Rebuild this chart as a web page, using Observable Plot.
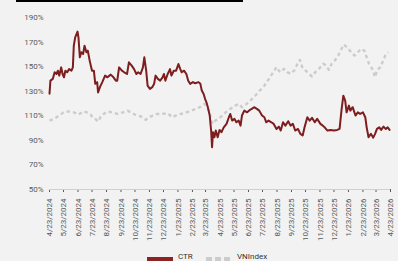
<!DOCTYPE html>
<html><head><meta charset="utf-8">
<script src="https://cdn.jsdelivr.net/npm/d3@7"></script>
<script src="https://cdn.jsdelivr.net/npm/@observablehq/plot@0.6"></script>
<style>
html,body{margin:0;padding:0;background:#f2f2f2;width:398px;height:261px;overflow:hidden;font-family:Roboto,"Liberation Sans",sans-serif;}
#bar{position:absolute;left:16px;top:0;width:227px;height:2px;background:#000;}
#chart{position:absolute;left:0;top:0;}
.leg{position:absolute;top:253px;font-size:8px;color:#333;line-height:8px;}
.sw{position:absolute;top:257px;width:26px;height:4px;}
</style></head>
<body>
<div id="chart"></div>
<div id="bar"></div>
<div class="sw" style="left:147px;background:#8b2323;"></div>
<div class="leg" style="left:178px;">CTR</div>
<div class="sw" style="left:206px;background:repeating-linear-gradient(90deg,#cccccc 0 6px,transparent 6px 9px);"></div>
<div class="leg" style="left:237px;">VNIndex</div>
<script>
const ctrDates = ["2024-04-23","2024-04-25","2024-04-30","2024-05-04","2024-05-08","2024-05-11","2024-05-14","2024-05-18","2024-05-21","2024-05-24","2024-05-27","2024-05-31","2024-06-04","2024-06-09","2024-06-12","2024-06-14","2024-06-17","2024-06-22","2024-06-24","2024-06-27","2024-06-30","2024-07-04","2024-07-07","2024-07-11","2024-07-14","2024-07-18","2024-07-23","2024-07-27","2024-07-30","2024-08-03","2024-08-05","2024-08-09","2024-08-14","2024-08-20","2024-08-25","2024-09-01","2024-09-07","2024-09-12","2024-09-15","2024-09-19","2024-09-25","2024-09-30","2024-10-06","2024-10-10","2024-10-16","2024-10-21","2024-10-26","2024-10-30","2024-11-04","2024-11-09","2024-11-12","2024-11-16","2024-11-19","2024-11-24","2024-11-29","2024-12-03","2024-12-06","2024-12-11","2024-12-16","2024-12-21","2024-12-24","2024-12-27","2025-01-01","2025-01-06","2025-01-09","2025-01-14","2025-01-19","2025-01-24","2025-01-28","2025-01-31","2025-02-05","2025-02-10","2025-02-14","2025-02-18","2025-02-24","2025-03-01","2025-03-08","2025-03-12","2025-03-15","2025-03-19","2025-03-22","2025-03-25","2025-03-28","2025-04-01","2025-04-04","2025-04-06","2025-04-08","2025-04-11","2025-04-14","2025-04-18","2025-04-22","2025-04-26","2025-05-01","2025-05-07","2025-05-12","2025-05-15","2025-05-19","2025-05-24","2025-05-28","2025-06-02","2025-06-06","2025-06-09","2025-06-14","2025-06-20","2025-06-26","2025-06-30","2025-07-05","2025-07-11","2025-07-16","2025-07-22","2025-07-27","2025-07-31","2025-08-05","2025-08-11","2025-08-16","2025-08-22","2025-08-27","2025-08-31","2025-09-05","2025-09-10","2025-09-16","2025-09-21","2025-09-26","2025-10-01","2025-10-07","2025-10-12","2025-10-17","2025-10-21","2025-10-27","2025-11-01","2025-11-06","2025-11-12","2025-11-17","2025-11-24","2025-11-29","2025-12-04","2025-12-09","2025-12-16","2025-12-23","2025-12-30","2026-01-04","2026-01-08","2026-01-12","2026-01-16","2026-01-19","2026-01-24","2026-01-27","2026-02-01","2026-02-07","2026-02-12","2026-02-17","2026-02-23","2026-02-28","2026-03-03","2026-03-07","2026-03-12","2026-03-17","2026-03-21","2026-03-25","2026-03-30","2026-04-03","2026-04-08","2026-04-13","2026-04-17","2026-04-21"];
const ctrValues = [128,138.6,140,145.4,144,146.7,142.7,149.4,144,141.3,146.7,145.4,148,146.7,149.4,167,173.8,178.5,173.8,157.6,161.7,160.3,167,161.7,163,154.9,146.7,146.7,136,137.4,129,133.3,137.4,142.7,141.3,143.5,141.3,138.6,138.6,149.4,146.7,145.4,144,153.5,150.8,148,144,145.4,144,149.4,157.6,146.7,134.6,131.9,133.3,136,142.7,140,138.6,141.3,144,138.6,144,148,142.7,146.7,146.7,152.1,148,145.4,146.7,144,138.6,136,137.4,136.5,137.4,136,130.5,127.8,123.8,121,117,110.2,98,84.4,96.6,92.5,98,92.5,98.5,96.6,100.6,103.4,108.8,111.5,106.1,107.5,104.7,106.1,102,110.2,114.2,112.8,114.8,115.6,117,115.6,114.2,110.2,108.8,104.7,106.1,104.7,103.4,99.3,101.2,98,104.7,102,105.6,102,103.4,98,99.3,95.3,94,100.6,108.8,106.1,108.3,104.7,107.5,103.4,102,100.2,98,98.5,98,98.5,99.3,114.2,126.4,122.4,112.8,118.3,114.2,117,110.2,112.8,111.5,112.8,108.8,100.6,92.5,95.3,92.2,95.3,99.3,100.6,98.5,101.2,99.3,100.6,98.5];
const vnDates = ["2024-04-23","2024-05-02","2024-05-13","2024-05-23","2024-06-03","2024-06-14","2024-06-24","2024-07-05","2024-07-12","2024-07-19","2024-07-24","2024-07-30","2024-08-05","2024-08-10","2024-08-17","2024-08-25","2024-09-04","2024-09-15","2024-09-27","2024-10-07","2024-10-14","2024-10-23","2024-11-01","2024-11-08","2024-11-15","2024-11-22","2024-11-29","2024-12-09","2024-12-20","2025-01-01","2025-01-11","2025-01-22","2025-02-05","2025-02-20","2025-03-03","2025-03-13","2025-03-21","2025-03-26","2025-04-01","2025-04-04","2025-04-08","2025-04-13","2025-04-20","2025-04-28","2025-05-05","2025-05-15","2025-05-26","2025-06-02","2025-06-09","2025-06-19","2025-06-27","2025-07-08","2025-07-17","2025-07-25","2025-08-01","2025-08-08","2025-08-15","2025-08-22","2025-08-27","2025-08-31","2025-09-07","2025-09-14","2025-09-21","2025-09-29","2025-10-06","2025-10-11","2025-10-16","2025-10-23","2025-10-30","2025-11-06","2025-11-13","2025-11-21","2025-11-30","2025-12-07","2025-12-12","2025-12-18","2025-12-25","2026-01-01","2026-01-08","2026-01-13","2026-01-20","2026-01-29","2026-02-05","2026-02-12","2026-02-19","2026-02-26","2026-03-03","2026-03-08","2026-03-15","2026-03-21","2026-03-25","2026-04-01","2026-04-06","2026-04-12","2026-04-18"];
const vnValues = [106,107.4,110,112.8,113.6,112.8,111,113.6,112.8,111.5,108.8,107.4,105.3,108.8,111.5,113.6,112.8,111.5,112.8,114.2,112.8,111,110,108.8,106.7,108.8,110,111.5,111.5,112,108.8,111,112,114.2,115.6,117.5,119.7,117,112.8,106.1,103.4,106.1,107.5,110.2,112.8,115.6,118.3,119.7,117,119.7,122.4,126.5,130.5,133.3,137.4,141.5,145.5,149.6,146.7,145.5,148.2,145.5,144.2,146.9,152.3,155.5,149.6,146.9,144.2,142,145.5,148.2,152.3,150.9,147.4,152.3,155,159,164.4,167.9,165.7,161.7,159,161.7,164.4,163,157.6,152.3,148.2,141.5,146.9,149.6,153.7,159,161.7];
const tickLabels = ["4/23/2024","5/23/2024","6/23/2024","7/23/2024","8/23/2024","9/23/2024","10/23/2024","11/23/2024","12/23/2024","1/23/2025","2/23/2025","3/23/2025","4/23/2025","5/23/2025","6/23/2025","7/23/2025","8/23/2025","9/23/2025","10/23/2025","11/23/2025","12/23/2025","1/23/2026","2/23/2026","3/23/2026","4/23/2026"];
const yTicks = [50,70,90,110,130,150,170,190];

const parse = d3.utcParse("%Y-%m-%d");
const parseTick = d3.utcParse("%m/%d/%Y");
const ctr = ctrDates.map((d,i)=>({date:parse(d), v:ctrValues[i]}));
const vn = vnDates.map((d,i)=>({date:parse(d), v:vnValues[i]}));
const ticks = tickLabels.map(parseTick);
const fmt = d3.utcFormat("%-m/%-d/%Y");

const chart = Plot.plot({
  width: 398, height: 250,
  marginLeft: 49, marginRight: 8, marginTop: 17, marginBottom: 61,
  style: {background: "transparent", fontFamily: "Roboto, 'Liberation Sans', sans-serif", fontSize: "8px", color: "#595959"},
  x: {type: "utc", domain: [ticks[0], ticks[ticks.length-1]], ticks: ticks, tickFormat: fmt, tickRotate: -90, tickSize: 3, label: null},
  y: {domain: [50,190], ticks: yTicks, tickFormat: d => d + "%", tickSize: 0, tickPadding: 6, label: null},
  marks: [
    Plot.ruleY([50], {stroke: "#d0d0d0"}),
    Plot.line(vn, {x: "date", y: "v", stroke: "#cccccc", strokeWidth: 2.4, strokeDasharray: "3.5,3", strokeLinecap: "butt"}),
    Plot.line(ctr, {x: "date", y: "v", stroke: "#7d1d1d", strokeWidth: 2})
  ]
});
document.getElementById("chart").appendChild(chart);
</script>
</body></html>
